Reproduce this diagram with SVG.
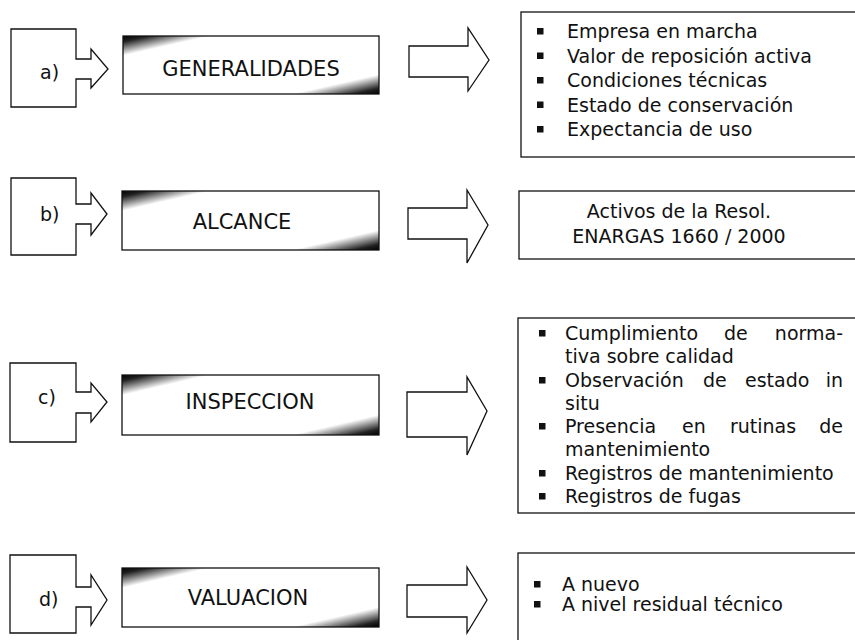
<svg xmlns="http://www.w3.org/2000/svg" width="855" height="640" viewBox="0 0 855 640">
<style>
.sh{fill:#fff;stroke:#111;stroke-width:1.3;stroke-linejoin:miter}
.tb{fill:url(#shade);stroke:#111;stroke-width:1.3}
.bx{fill:#fff;stroke:#111;stroke-width:1.3}
.lbl{font-family:"DejaVu Sans",Verdana,sans-serif;font-size:19px;fill:#111}
.ttl{font-family:"DejaVu Sans",Verdana,sans-serif;font-size:21px;fill:#111;text-anchor:middle}
.txt{font-family:"DejaVu Sans",Verdana,sans-serif;font-size:19px;fill:#111}
.bul{fill:#111}
</style>
<defs>
<linearGradient id="shade" x1="0" y1="0" x2="1" y2="1">
<stop offset="0" stop-color="#000"/>
<stop offset="0.05" stop-color="#222"/>
<stop offset="0.17" stop-color="#fff"/>
<stop offset="0.83" stop-color="#fff"/>
<stop offset="0.95" stop-color="#222"/>
<stop offset="1" stop-color="#000"/>
</linearGradient>
</defs>
<rect width="855" height="640" fill="#fff"/>

<!-- Row a -->
<g id="label-a">
<path class="sh" d="M11,29 H76 V59 H91 V49 L108,69 L91,88 V79 H76 V107 H11 Z"/>
<text class="lbl" x="40" y="79">a)</text>
</g>
<g id="title-a">
<rect class="tb" x="123" y="36" width="256" height="58"/>
<text class="ttl" x="251" y="76">GENERALIDADES</text>
</g>
<g id="detail-a">
<rect class="bx" x="521" y="12" width="340" height="145"/>
<rect class="bul" x="537" y="28" width="6.5" height="6.5"/>
<text class="txt" x="567" y="38">Empresa en marcha</text>
<rect class="bul" x="537" y="52.5" width="6.5" height="6.5"/>
<text class="txt" x="567" y="62.5">Valor de reposición activa</text>
<rect class="bul" x="537" y="77" width="6.5" height="6.5"/>
<text class="txt" x="567" y="87">Condiciones técnicas</text>
<rect class="bul" x="537" y="101.5" width="6.5" height="6.5"/>
<text class="txt" x="567" y="111.5">Estado de conservación</text>
<rect class="bul" x="537" y="126" width="6.5" height="6.5"/>
<text class="txt" x="567" y="136">Expectancia de uso</text>
</g>

<!-- Row b -->
<g id="label-b">
<path class="sh" d="M11,178 H76 V204 H91 V193 L107,214 L91,235 V224 H76 V255 H11 Z"/>
<text class="lbl" x="40" y="221">b)</text>
</g>
<g id="title-b">
<rect class="tb" x="122" y="191" width="257" height="59"/>
<text class="ttl" x="242" y="229">ALCANCE</text>
</g>
<g id="detail-b">
<rect class="bx" x="519" y="191" width="342" height="68"/>
<text class="txt" x="679" y="218" text-anchor="middle">Activos de la Resol.</text>
<text class="txt" x="679" y="243" text-anchor="middle">ENARGAS 1660 / 2000</text>
</g>

<!-- Row c -->
<g id="label-c">
<path class="sh" d="M10,363 H76 V392 H91 V383 L107,402 L91,422 V413 H76 V442 H10 Z"/>
<text class="lbl" x="38" y="404">c)</text>
</g>
<g id="title-c">
<rect class="tb" x="122" y="375" width="257" height="60"/>
<text class="ttl" x="250" y="409">INSPECCION</text>
</g>
<g id="detail-c">
<rect class="bx" x="518" y="318" width="343" height="195"/>
<rect class="bul" x="539" y="330" width="6.5" height="6.5"/>
<text class="txt" y="340"><tspan x="565">Cumplimiento</tspan><tspan x="724">de</tspan></text>
<text class="txt" x="843" y="340" text-anchor="end">norma-</text>
<text class="txt" x="565" y="363">tiva sobre calidad</text>
<rect class="bul" x="539" y="377" width="6.5" height="6.5"/>
<text class="txt" y="387"><tspan x="565">Observación</tspan><tspan x="703">de</tspan><tspan x="745">estado</tspan></text>
<text class="txt" x="843" y="387" text-anchor="end">in</text>
<text class="txt" x="565" y="410">situ</text>
<rect class="bul" x="539" y="423" width="6.5" height="6.5"/>
<text class="txt" y="433"><tspan x="565">Presencia</tspan><tspan x="682">en</tspan><tspan x="730">rutinas</tspan></text>
<text class="txt" x="843" y="433" text-anchor="end">de</text>
<text class="txt" x="565" y="456">mantenimiento</text>
<rect class="bul" x="539" y="470" width="6.5" height="6.5"/>
<text class="txt" x="565" y="480">Registros de mantenimiento</text>
<rect class="bul" x="539" y="493" width="6.5" height="6.5"/>
<text class="txt" x="565" y="503">Registros de fugas</text>
</g>

<!-- Row d -->
<g id="label-d">
<path class="sh" d="M10,555 H76 V587 H91 V575 L107,600 L91,625 V607 H76 V633 H10 Z"/>
<text class="lbl" x="39" y="606">d)</text>
</g>
<g id="title-d">
<rect class="tb" x="122" y="568" width="257" height="59"/>
<text class="ttl" x="248" y="605">VALUACION</text>
</g>
<g id="detail-d">
<rect class="bx" x="518" y="553" width="343" height="100"/>
<rect class="bul" x="534" y="581" width="6.5" height="6.5"/>
<text class="txt" x="562" y="591">A nuevo</text>
<rect class="bul" x="534" y="601" width="6.5" height="6.5"/>
<text class="txt" x="562" y="611">A nivel residual técnico</text>
</g>

<!-- Connectors: hollow block arrows -->
<g id="connectors">
<path class="sh" d="M409,46 H468 V28 L489,60 L468,91 V77 H409 Z"/>
<path class="sh" d="M408,208 H467 V190 L488,225 L467,263 V239 H408 Z"/>
<path class="sh" d="M407,392 H467 V377 L487,411 L467,455 V437 H407 Z"/>
<path class="sh" d="M407,585 H467 V567 L487,600 L467,633 V617 H407 Z"/>
</g>
</svg>
